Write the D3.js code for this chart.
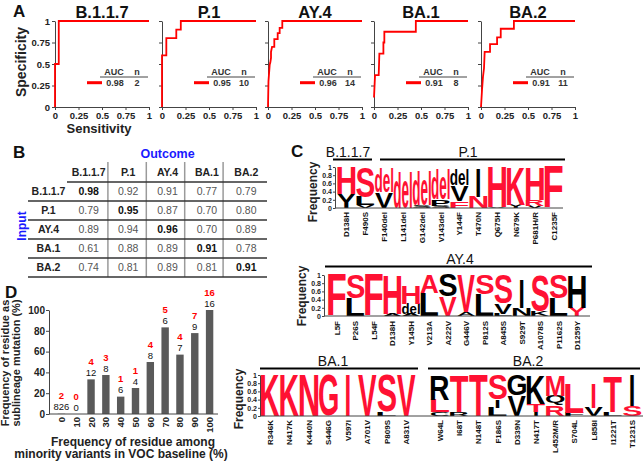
<!DOCTYPE html>
<html><head><meta charset="utf-8">
<script src="https://cdn.jsdelivr.net/npm/d3@7"></script>
<style>body{margin:0;background:#fff}svg{display:block}</style>
</head><body>
<svg id="c" width="643" height="462"></svg>
<script>
// ================= DATA =================
// Panel A: ROC curves
const rocVariants = ["B.1.1.7","P.1","AY.4","BA.1","BA.2"];
const rocAUC = ["0.98","0.95","0.96","0.91","0.91"];
const rocN = [2,10,14,8,11];
const rocTicks = [0,0.25,0.5,0.75,1];
const rocB117 = [[0,0],[0,0.5],[0.04,0.5],[0.04,1],[1,1]];
const rocP1 = [[0,0],[0,0.6],[0.046,0.6],[0.046,0.8],[0.152,0.8],[0.152,0.9],[0.2,0.9],[0.2,1],[1,1]];
const rocAY4 = [[0,0],[0.005,0.3],[0.018,0.49],[0.025,0.52],[0.032,0.57],[0.032,0.64],[0.043,0.7],[0.067,0.7],[0.067,0.79],[0.103,0.79],[0.103,0.86],[0.124,0.86],[0.124,0.92],[0.152,0.92],[0.152,1],[1,1]];
const rocBA1 = [[0,0.11],[0.011,0.37],[0.05,0.37],[0.057,0.62],[0.1,0.62],[0.1,0.75],[0.11,0.75],[0.11,0.875],[0.445,0.875],[0.445,1],[1,1]];
const rocBA2 = [[0,0],[0.011,0.2],[0.021,0.35],[0.032,0.45],[0.039,0.64],[0.096,0.64],[0.096,0.73],[0.171,0.73],[0.171,0.81],[0.21,0.81],[0.21,0.91],[0.35,0.91],[0.35,1],[1,1]];

// Panel B: cross-prediction table
const tableVariants = ["B.1.1.7","P.1","AY.4","BA.1","BA.2"];
const tableB117 = [0.98,0.92,0.91,0.77,0.79];
const tableP1   = [0.79,0.95,0.87,0.70,0.80];
const tableAY4  = [0.89,0.94,0.96,0.70,0.89];
const tableBA1  = [0.61,0.88,0.89,0.91,0.78];
const tableBA2  = [0.74,0.81,0.89,0.81,0.91];

// Panel C: sequence logos (stacks bottom -> top: [residue, frequency, colour r/k])
const b117Sites = ["D138H","F490S"];
const b117Stacks = [
  [["Y",0.35,"k"],["H",0.65,"r"]],
  [["V",0.07,"k"],["L",0.2,"k"],["S",0.73,"r"]]
];
const p1Sites = ["F140del","L141del","G142del","V143del","Y144F","T470N","Q675H","N679K","P681H/R","C1235F"];
const p1Stacks = [
  [["V",0.38,"k"],["del",0.59,"r"]],
  [["del",0.9,"r"]],
  [["S",0.05,"k"],["del",0.85,"r"]],
  [["S",0.05,"k"],["P",0.15,"k"],["del",0.75,"r"]],
  [["F",0.17,"r"],["V",0.38,"k"],["del",0.4,"k"]],
  [["N",0.27,"r"],["I",0.68,"k"]],
  [["V",0.03,"k"],["H",0.97,"r"]],
  [["Y",0.08,"k"],["K",0.92,"r"]],
  [["V",0.05,"k"],["R",0.15,"r"],["H",0.8,"r"]],
  [["F",1,"r"]]
];
const ay4Sites = ["L5F","P26S","L54F","D138H","Y145H","V213A","A222V","G446V","P812S","A845S","S929T","A1078S","P1162S","D1259Y"];
const ay4Stacks = [
  [["F",1,"r"]],
  [["L",0.42,"k"],["S",0.58,"r"]],
  [["F",1,"r"]],
  [["A",0.05,"k"],["H",0.95,"r"]],
  [["A",0.05,"k"],["del",0.25,"k"],["H",0.45,"r"]],
  [["L",0.55,"k"],["A",0.45,"r"]],
  [["V",0.47,"r"],["S",0.53,"k"]],
  [["A",0.1,"k"],["V",0.9,"r"]],
  [["L",0.52,"k"],["S",0.48,"r"]],
  [["L",0.05,"k"],["V",0.25,"k"],["S",0.7,"r"]],
  [["N",0.2,"k"],["I",0.68,"k"]],
  [["K",0.12,"k"],["S",0.88,"r"]],
  [["L",0.42,"k"],["S",0.56,"r"]],
  [["Y",0.2,"r"],["H",0.8,"k"]]
];
const ba1Sites = ["R346K","N417K","K440N","S446G","V597I","A701V","P809S","A831V"];
const ba1Stacks = [
  [["K",1,"r"]],[["K",1,"r"]],[["N",1,"r"]],[["G",1,"r"]],
  [["I",1,"r"]],[["V",1,"r"]],[["L",0.1,"k"],["S",0.9,"r"]],[["V",1,"r"]]
];
const ba2Sites = ["W64L","I68T","N148T","F186S","D339N","N417T","L452M/R","S704L","L858I","I1221T","T1231S"];
const ba2Stacks = [
  [["C",0.1,"k"],["L",0.3,"r"],["R",0.6,"k"]],
  [["R",0.1,"k"],["T",0.9,"r"]],
  [["T",1,"r"]],
  [["L",0.2,"k"],["I",0.2,"k"],["S",0.6,"r"]],
  [["V",0.5,"k"],["G",0.5,"k"]],
  [["I",0.1,"k"],["T",0.2,"r"],["K",0.7,"k"]],
  [["R",0.25,"r"],["Q",0.25,"k"],["M",0.5,"r"]],
  [["F",0.08,"k"],["L",0.72,"r"]],
  [["V",0.2,"k"],["I",0.6,"r"]],
  [["L",0.1,"k"],["T",0.85,"r"]],
  [["S",0.25,"r"],["I",0.75,"k"]]
];
const logoTicks = [0,0.2,0.4,0.6,0.8,1];

// Panel D: bar chart
const dBins = ["0","10","20","30","40","50","60","70","80","90","100"];
const dPercent = [0.24,0,33.3,37.5,16.7,25,50,83.3,57.1,77.8,100];
const dSub = [2,0,4,3,1,1,4,5,4,7,16];
const dTotal = [826,0,12,8,6,4,8,6,7,9,16];
const dTicks = [0,20,40,60,80,100];

// ================= DRAW =================
const FONT = "'Liberation Sans', Arial, Helvetica, sans-serif";
const RED = "#ff0000", LRED = "#ff1133";
const svg = d3.select("#c");

function text(g, s, x, y, o = {}) {
  let host = g, tx = x, ty = y;
  if (o.rotate) {
    host = g.append("g").attr("transform", `translate(${x},${y}) rotate(${o.rotate})`);
    tx = 0; ty = 0;
  }
  return host.append("text").text(s)
    .attr("x", tx).attr("y", ty)
    .attr("font-family", FONT)
    .attr("font-size", o.size || 10)
    .attr("font-weight", o.weight || "normal")
    .attr("fill", o.fill || "#111")
    .attr("text-anchor", o.anchor || "middle");
}
function styleAxis(g, size, weight) {
  g.select(".domain").attr("stroke", "#444");
  g.selectAll(".tick line").attr("stroke", "#444");
  g.selectAll(".tick text").attr("font-family", FONT).attr("font-size", size)
    .attr("font-weight", weight).attr("fill", "#222");
}

// Panel letters
text(svg, "A", 13, 17, {size: 17, weight: "bold", anchor: "start"});
text(svg, "B", 13, 158, {size: 17, weight: "bold", anchor: "start"});
text(svg, "C", 291, 157, {size: 17, weight: "bold", anchor: "start"});
text(svg, "D", 5, 298, {size: 17, weight: "bold", anchor: "start"});

// ---------- Panel A ----------
const rocData = [rocB117, rocP1, rocAY4, rocBA1, rocBA2];
const rocLeft = [55, 162, 268, 374, 481], rocWidth = 94, rocTop = 21, rocBottom = 107;
rocVariants.forEach((v, i) => {
  const L = rocLeft[i];
  const x = d3.scaleLinear([0, 1], [L, L + rocWidth]);
  const y = d3.scaleLinear([0, 1], [rocBottom, rocTop]);
  const g = svg.append("g");
  const ay = g.append("g").attr("transform", `translate(${L},0)`)
    .call(d3.axisLeft(y).tickValues(rocTicks).tickSize(3).tickSizeOuter(0).tickPadding(2)
      .tickFormat(i === 0 ? d3.format("") : () => ""));
  styleAxis(ay, 9.5, "bold");
  const ax = g.append("g").attr("transform", `translate(0,${rocBottom})`)
    .call(d3.axisBottom(x).tickValues(rocTicks).tickSize(3).tickSizeOuter(0).tickPadding(2)
      .tickFormat(d3.format("")));
  styleAxis(ax, 9.5, "bold");
  g.append("path").datum(rocData[i])
    .attr("d", d3.line().x(d => x(d[0])).y(d => y(d[1])))
    .attr("fill", "none").attr("stroke", RED).attr("stroke-width", 1.8);
  text(g, v, L + rocWidth / 2, 18, {size: 16.5, weight: "bold"});
  // legend
  text(g, "AUC", L + 59, 75, {size: 9, weight: "bold", fill: "#333"});
  text(g, "n", L + 82, 75, {size: 9, weight: "bold", fill: "#333"});
  g.append("line").attr("x1", L + 45).attr("x2", L + 93).attr("y1", 77).attr("y2", 77)
    .attr("stroke", "#444").attr("stroke-width", 1);
  g.append("line").attr("x1", L + 32).attr("x2", L + 47).attr("y1", 82.7).attr("y2", 82.7)
    .attr("stroke", RED).attr("stroke-width", 3);
  text(g, rocAUC[i], L + 60, 86, {size: 9, weight: "bold", fill: "#333"});
  text(g, String(rocN[i]), L + 82, 86, {size: 9, weight: "bold", fill: "#333"});
});
text(svg, "Specificity", 25.5, 62, {size: 14, weight: "bold", rotate: -90, fill: "#222"});
text(svg, "Sensitivity", 99, 133, {size: 13, weight: "bold", fill: "#222"});

// ---------- Panel B ----------
{
  const g = svg.append("g");
  const rows = [tableB117, tableP1, tableAY4, tableBA1, tableBA2];
  const cx = d3.scaleBand(tableVariants, [69.5, 266.5]);
  const ry = d3.scaleBand(tableVariants, [182, 277]);
  text(g, "Outcome", 167.5, 158, {size: 12.5, weight: "bold", fill: "#1a1aff"});
  text(g, "Input", 26, 226, {size: 12, weight: "bold", fill: "#1a1aff", rotate: -90});
  tableVariants.slice(1).forEach((v, j) => {
    const xx = cx(v) - 1 - j;
    g.append("line").attr("x1", xx).attr("x2", xx).attr("y1", 162).attr("y2", 277)
      .attr("stroke", "#9a9a9a").attr("stroke-width", 1.5);
  });
  g.append("line").attr("x1", 67).attr("x2", 267).attr("y1", 182).attr("y2", 182)
    .attr("stroke", "#333").attr("stroke-width", 1.6);
  tableVariants.forEach(v => {
    const yy = ry(v) + ry.bandwidth();
    g.append("line").attr("x1", 28).attr("x2", 267).attr("y1", yy).attr("y2", yy)
      .attr("stroke", "#333").attr("stroke-width", 1.6);
  });
  tableVariants.forEach(v => {
    text(g, v, cx(v) + cx.bandwidth() / 2 - 0.5, 175.7, {size: 10.5, weight: "bold", fill: "#222"});
  });
  rows.forEach((r, i) => {
    const yc = ry(tableVariants[i]) + ry.bandwidth() / 2 + 3.8;
    text(g, tableVariants[i], 48.5, yc, {size: 10.5, weight: "bold", fill: "#222"});
    r.forEach((val, j) => {
      const diag = i === j;
      text(g, val.toFixed(2), cx(tableVariants[j]) + cx.bandwidth() / 2 - 0.5, yc,
        {size: 10.5, weight: diag ? "bold" : "normal", fill: diag ? "#111" : "#555"});
    });
  });
}

// ---------- Panel C ----------
const canvas = document.createElement("canvas");
const ctx = canvas.getContext("2d");
ctx.font = "bold 100px 'Liberation Sans'";
function ink(ch) {
  const m = ctx.measureText(ch);
  return {l: m.actualBoundingBoxLeft, r: m.actualBoundingBoxRight,
          a: m.actualBoundingBoxAscent, d: m.actualBoundingBoxDescent};
}
const refInk = (() => { const k = ink("H"); return (k.l + k.r) * 0.85; })();
function drawLetter(g, ch, color, cx, yBottom, w, h) {
  if (h <= 0.2) return;
  const k = ink(ch);
  const iw = k.l + k.r, ih = k.a + k.d;
  let sx = (w * 0.96) / Math.max(iw, refInk);
  if (ch === "I") sx *= 0.65;
  const sy = h / ih;
  const midX = (k.r - k.l) / 2;
  g.append("text").text(ch)
    .attr("font-family", FONT).attr("font-weight", "bold").attr("font-size", 100)
    .attr("fill", color)
    .attr("transform", `translate(${cx},${yBottom}) scale(${sx},${sy}) translate(${-midX},${-k.d})`);
}
function drawLogo(g, sites, stacks, x, y, labelTop) {
  sites.forEach((s, i) => {
    let acc = 0;
    const cxx = x(s) + x.bandwidth() / 2;
    stacks[i].forEach(([ch, h, c]) => {
      const y0 = y(acc), y1 = y(acc + h);
      drawLetter(g, ch, c === "r" ? LRED : "#000", cxx, y0, x.bandwidth(), y0 - y1);
      acc += h;
    });
    text(g, s, cxx + 3, labelTop, {size: 8, weight: "bold", anchor: "end", rotate: -90, fill: "#111"});
  });
}
function logoAxis(g, axisX, y, labelX, labelY) {
  const a = g.append("g").attr("transform", `translate(${axisX},0)`)
    .call(d3.axisLeft(y).tickValues(logoTicks).tickSize(2).tickSizeOuter(0).tickPadding(1).tickFormat(d3.format("")));
  styleAxis(a, 7, "bold");
  text(g, "Frequency", labelX, labelY, {size: 12, weight: "bold", rotate: -90, fill: "#222"});
}
function groupLine(g, label, x1, x2, yLine, labelX) {
  g.append("line").attr("x1", x1).attr("x2", x2).attr("y1", yLine).attr("y2", yLine)
    .attr("stroke", "#000").attr("stroke-width", 2);
  text(g, label, labelX, yLine - 2.5, {size: 14, fill: "#111"});
}
// logo 1
{
  const g = svg.append("g");
  const y = d3.scaleLinear([0, 1], [208, 167]);
  const x = d3.scaleBand(b117Sites.concat(p1Sites), [337, 563]);
  logoAxis(g, 335, y, 316.5, 192);
  drawLogo(g, b117Sites, b117Stacks, x, y, 212);
  drawLogo(g, p1Sites, p1Stacks, x, y, 212);
  g.append("line").attr("x1", 335).attr("x2", 563).attr("y1", 208).attr("y2", 208)
    .attr("stroke", "#444").attr("stroke-width", 1);
  groupLine(g, "B.1.1.7", 333, 372, 159.5, 348);
  groupLine(g, "P.1", 380, 565, 159.5, 468);
}
// logo 2
{
  const g = svg.append("g");
  const y = d3.scaleLinear([0, 1], [316, 275]);
  const x = d3.scaleBand(ay4Sites, [327.8, 586.2]);
  logoAxis(g, 324, y, 306, 296);
  drawLogo(g, ay4Sites, ay4Stacks, x, y, 321);
  g.append("line").attr("x1", 324).attr("x2", 590).attr("y1", 316).attr("y2", 316)
    .attr("stroke", "#444").attr("stroke-width", 1);
  groupLine(g, "AY.4", 325, 592, 266.5, 460);
}
// logo 3
{
  const g = svg.append("g");
  const y = d3.scaleLinear([0, 1], [416, 375]);
  const x1 = d3.scaleBand(ba1Sites, [260.3, 416]);
  const x2 = d3.scaleBand(ba2Sites, [430.4, 641.6]);
  logoAxis(g, 260, y, 243, 399);
  drawLogo(g, ba1Sites, ba1Stacks, x1, y, 420);
  drawLogo(g, ba2Sites, ba2Stacks, x2, y, 420);
  g.append("line").attr("x1", 260).attr("x2", 643).attr("y1", 416).attr("y2", 416)
    .attr("stroke", "#444").attr("stroke-width", 1);
  groupLine(g, "BA.1", 260, 418, 368.5, 333);
  groupLine(g, "BA.2", 428, 640, 368.5, 528);
}

// ---------- Panel D ----------
{
  const g = svg.append("g");
  const y = d3.scaleLinear([0, 100], [414, 310]);
  const x = d3.scaleBand(dBins, [54, 217]);
  const bw = x.bandwidth() * 0.5;
  g.selectAll("rect.bar").data(dBins).join("rect")
    .attr("class", "bar")
    .attr("x", d => x(d) + x.bandwidth() / 2 - bw / 2)
    .attr("width", bw)
    .attr("y", (d, i) => y(dPercent[i]))
    .attr("height", (d, i) => y(0) - y(dPercent[i]))
    .attr("fill", "#5a5a5a");
  const ay = g.append("g").attr("transform", "translate(49,0)")
    .call(d3.axisLeft(y).tickValues(dTicks).tickSize(3).tickSizeOuter(0).tickPadding(1));
  styleAxis(ay, 10, "bold");
  g.append("line").attr("x1", 49).attr("x2", 218).attr("y1", 414).attr("y2", 414)
    .attr("stroke", "#444").attr("stroke-width", 1);
  dBins.forEach((d, i) => {
    const cxx = x(d) + x.bandwidth() / 2;
    text(g, String(dTotal[i]), cxx, y(dPercent[i]) - 3.5, {size: 9.5, fill: "#111"});
    text(g, String(dSub[i]), cxx, y(dPercent[i]) - 14.5, {size: 9.5, weight: "bold", fill: RED});
    text(g, d, cxx + 3.5, 417, {size: 9.5, weight: "bold", anchor: "end", rotate: -90, fill: "#222"});
  });
  text(g, "Frequency of residue as", 9, 363, {size: 11, weight: "bold", rotate: -90, fill: "#222"});
  text(g, "sublineage mutation (%)", 19.5, 363, {size: 11, weight: "bold", rotate: -90, fill: "#222"});
  text(g, "Frequency of residue among", 133, 446, {size: 12, weight: "bold", fill: "#222"});
  text(g, "minority variants in VOC baseline (%)", 121, 458, {size: 12, weight: "bold", fill: "#222"});
}
</script>
</body></html>
